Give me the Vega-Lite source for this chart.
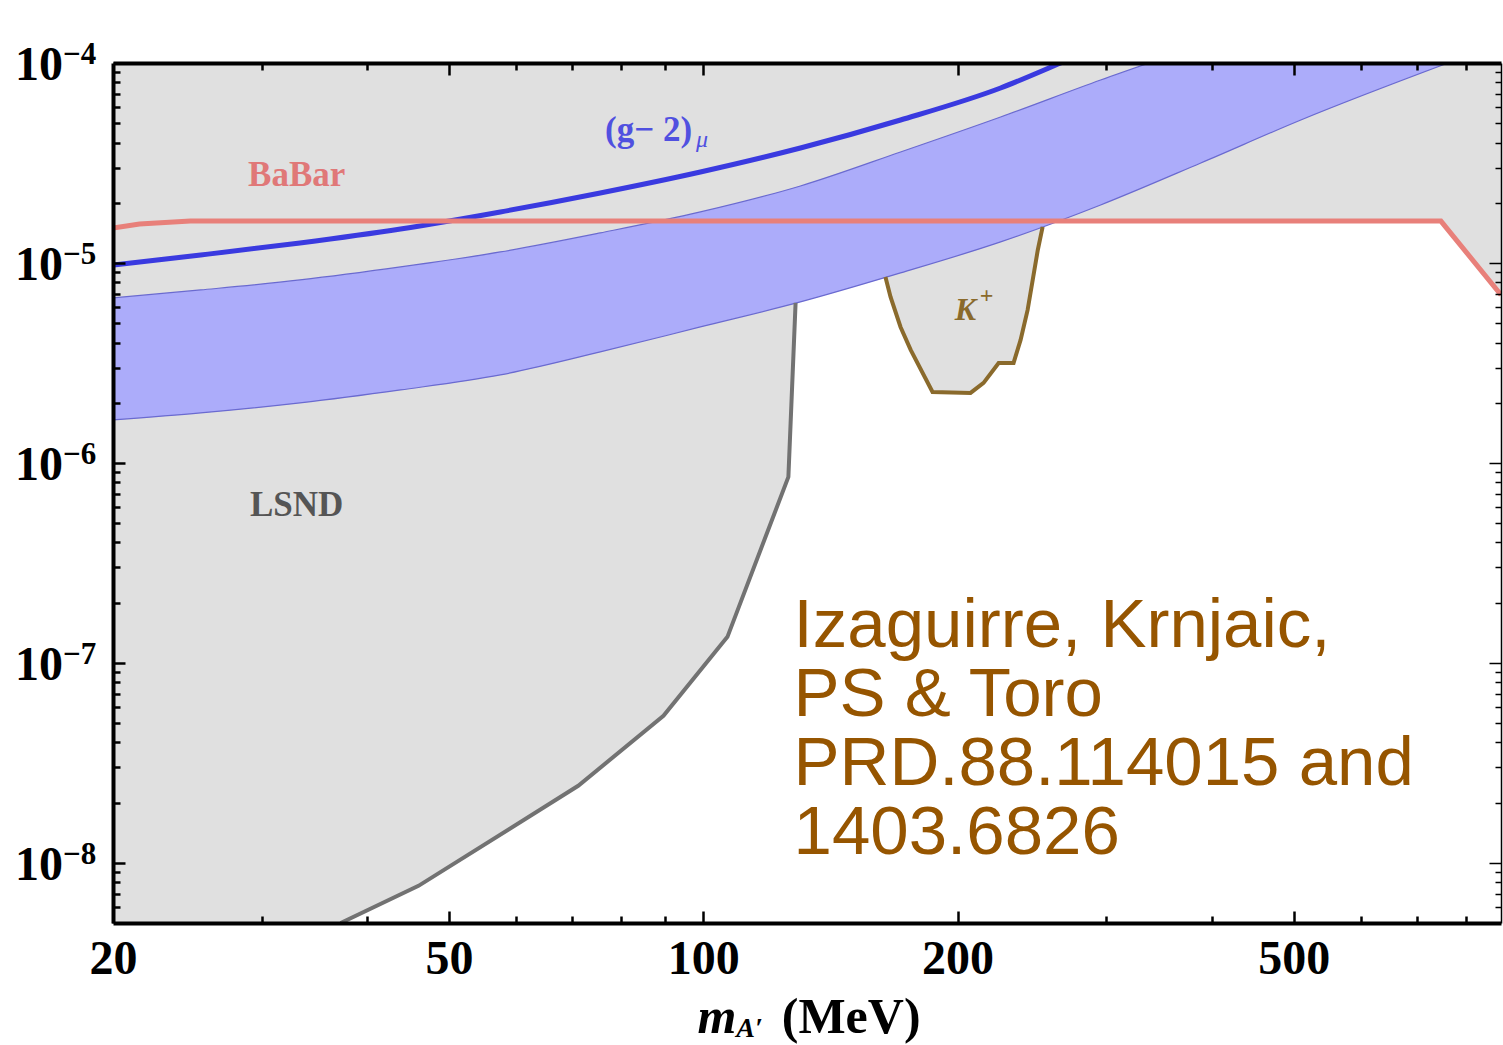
{
  "$schema": "https://vega.github.io/schema/vega-lite/v6.json",
  "width": 1388,
  "height": 860,
  "autosize": {"type": "none"},
  "padding": {"left": 113, "top": 63, "right": 2, "bottom": 122},
  "background": "white",
  "config": {
    "view": {"stroke": null},
    "axis": {
      "grid": false,
      "title": null,
      "labelFont": "Liberation Serif",
      "labelFontWeight": "bold",
      "labelFontSize": 48,
      "labelColor": "black",
      "domainColor": "black",
      "domainWidth": 4,
      "tickColor": "black",
      "tickWidth": 2.5,
      "labelOverlap": false,
      "labelFlush": false,
      "labelBound": false
    }
  },
  "datasets": {
    "one": [{}],
    "ylab": [
      {"v": 1e-4, "sup": "−4"},
      {"v": 1e-5, "sup": "−5"},
      {"v": 1e-6, "sup": "−6"},
      {"v": 1e-7, "sup": "−7"},
      {"v": 1e-8, "sup": "−8"}
    ],
    "babar": [
      {"m": 20, "y": 1.496e-5},
      {"m": 21.5, "y": 1.567e-5},
      {"m": 24.7, "y": 1.62e-5},
      {"m": 747, "y": 1.62e-5},
      {"m": 880, "y": 6.92e-6}
    ],
    "band": [
      {"m": 20, "lo": 1.641e-6, "hi": 6.683e-6},
      {"m": 25.4, "lo": 1.778e-6, "hi": 7.328e-6},
      {"m": 33.3, "lo": 1.995e-6, "hi": 8.222e-6},
      {"m": 43.8, "lo": 2.317e-6, "hi": 9.55e-6},
      {"m": 57.5, "lo": 2.754e-6, "hi": 1.135e-5},
      {"m": 75.5, "lo": 3.589e-6, "hi": 1.413e-5},
      {"m": 99.2, "lo": 4.786e-6, "hi": 1.799e-5},
      {"m": 130.3, "lo": 6.383e-6, "hi": 2.427e-5},
      {"m": 171.2, "lo": 8.913e-6, "hi": 3.589e-5},
      {"m": 224.9, "lo": 1.274e-5, "hi": 5.37e-5},
      {"m": 295.4, "lo": 1.95e-5, "hi": 8.222e-5},
      {"m": 388.2, "lo": 3.162e-5, "hi": 1.23e-4},
      {"m": 509.9, "lo": 5.188e-5, "hi": 1.841e-4},
      {"m": 761.5, "lo": 1.0e-4, "hi": 3.35e-4}
    ],
    "g2": [
      {"m": 20, "y": 9.77e-6},
      {"m": 25.4, "y": 1.096e-5},
      {"m": 33.3, "y": 1.259e-5},
      {"m": 43.8, "y": 1.479e-5},
      {"m": 57.5, "y": 1.799e-5},
      {"m": 75.5, "y": 2.239e-5},
      {"m": 99.2, "y": 2.851e-5},
      {"m": 130.3, "y": 3.758e-5},
      {"m": 171.2, "y": 5.188e-5},
      {"m": 224.9, "y": 7.499e-5},
      {"m": 264.9, "y": 1.0e-4},
      {"m": 300, "y": 1.25e-4}
    ],
    "lsnd": [
      {"m": 20, "y": 5.0e-9},
      {"m": 37.2, "y": 5.0e-9},
      {"m": 46.0, "y": 7.67e-9},
      {"m": 71.1, "y": 2.427e-8},
      {"m": 89.7, "y": 5.433e-8},
      {"m": 106.8, "y": 1.349e-7},
      {"m": 126.1, "y": 8.511e-7},
      {"m": 128.6, "y": 6.31e-6}
    ],
    "kplus": [
      {"m": 164.3, "y": 8.511e-6},
      {"m": 166.6, "y": 6.761e-6},
      {"m": 171.2, "y": 4.786e-6},
      {"m": 176.0, "y": 3.673e-6},
      {"m": 186.8, "y": 2.265e-6},
      {"m": 207.2, "y": 2.239e-6},
      {"m": 214.7, "y": 2.512e-6},
      {"m": 223.7, "y": 3.162e-6},
      {"m": 233.0, "y": 3.162e-6},
      {"m": 237.5, "y": 4.121e-6},
      {"m": 242.1, "y": 5.821e-6},
      {"m": 248.9, "y": 1.161e-5},
      {"m": 252.2, "y": 1.514e-5}
    ]
  },
  "layer": [
    {
      "data": {"name": "babar"},
      "mark": {"type": "area", "color": "#e0e0e0", "clip": true},
      "encoding": {
        "x": {
          "field": "m", "type": "quantitative",
          "scale": {"type": "log", "domain": [20, 880], "nice": false, "zero": false},
          "axis": {
            "orient": "bottom",
            "zindex": 2,
            "values": [20, 30, 40, 50, 60, 70, 80, 90, 100, 200, 300, 400, 500, 600, 700, 800],
            "labelExpr": "indexof([20,50,100,200,500], datum.value) >= 0 ? '' + datum.value : ''",
            "tickSize": {"condition": {"test": "indexof([20,50,100,200,500], datum.value) >= 0", "value": -12}, "value": -7},
            "labelPadding": 24
          }
        },
        "y": {
          "field": "y", "type": "quantitative",
          "scale": {"type": "log", "domain": [5e-9, 1e-4], "nice": false, "zero": false},
          "axis": {
            "orient": "left",
            "zindex": 2,
            "values": [6e-9, 7e-9, 8e-9, 9e-9, 1e-8, 2e-8, 3e-8, 4e-8, 5e-8, 6e-8, 7e-8, 8e-8, 9e-8, 1e-7, 2e-7, 3e-7, 4e-7, 5e-7, 6e-7, 7e-7, 8e-7, 9e-7, 1e-6, 2e-6, 3e-6, 4e-6, 5e-6, 6e-6, 7e-6, 8e-6, 9e-6, 1e-5, 2e-5, 3e-5, 4e-5, 5e-5, 6e-5, 7e-5, 8e-5, 9e-5, 1e-4],
            "labels": false,
            "tickSize": {"condition": {"test": "abs(log(datum.value)/LN10 - round(log(datum.value)/LN10)) < 0.01", "value": -12}, "value": -7}
          }
        },
        "y2": {"datum": 1e-4}
      }
    },
    {
      "data": {"name": "lsnd"},
      "mark": {"type": "area", "color": "#e0e0e0", "clip": true},
      "encoding": {
        "x": {
          "field": "m", "type": "quantitative",
          "axis": {
            "orient": "top",
            "zindex": 2,
            "values": [30, 40, 50, 60, 70, 80, 90, 100, 200, 300, 400, 500, 600, 700, 800],
            "labels": false,
            "tickSize": {"condition": {"test": "indexof([20,50,100,200,500], datum.value) >= 0", "value": -12}, "value": -7}
          }
        },
        "y": {
          "field": "y", "type": "quantitative",
          "axis": {
            "orient": "right",
            "zindex": 2,
            "values": [6e-9, 7e-9, 8e-9, 9e-9, 1e-8, 2e-8, 3e-8, 4e-8, 5e-8, 6e-8, 7e-8, 8e-8, 9e-8, 1e-7, 2e-7, 3e-7, 4e-7, 5e-7, 6e-7, 7e-7, 8e-7, 9e-7, 1e-6, 2e-6, 3e-6, 4e-6, 5e-6, 6e-6, 7e-6, 8e-6, 9e-6, 1e-5, 2e-5, 3e-5, 4e-5, 5e-5, 6e-5, 7e-5, 8e-5, 9e-5],
            "labels": false,
            "domainWidth": 1.5,
            "tickWidth": 1.5,
            "tickSize": {"condition": {"test": "abs(log(datum.value)/LN10 - round(log(datum.value)/LN10)) < 0.01", "value": -12}, "value": -6}
          }
        },
        "y2": {"datum": 1e-4}
      }
    },
    {
      "data": {"name": "kplus"},
      "mark": {"type": "area", "color": "#e0e0e0", "clip": true},
      "encoding": {
        "x": {"field": "m", "type": "quantitative", "axis": null},
        "y": {"field": "y", "type": "quantitative", "axis": null},
        "y2": {"datum": 1.6e-5}
      }
    },
    {
      "data": {"name": "band"},
      "mark": {"type": "area", "color": "#acacfa", "opacity": 1, "interpolate": "monotone", "clip": true},
      "encoding": {
        "x": {"field": "m", "type": "quantitative", "axis": null},
        "y": {"field": "lo", "type": "quantitative", "axis": null},
        "y2": {"field": "hi"}
      }
    },
    {
      "data": {"name": "band"},
      "mark": {"type": "line", "color": "#6a6ad0", "strokeWidth": 1.2, "interpolate": "monotone", "clip": true},
      "encoding": {
        "x": {"field": "m", "type": "quantitative", "axis": null},
        "y": {"field": "lo", "type": "quantitative", "axis": null}
      }
    },
    {
      "data": {"name": "band"},
      "mark": {"type": "line", "color": "#6a6ad0", "strokeWidth": 1.2, "interpolate": "monotone", "clip": true},
      "encoding": {
        "x": {"field": "m", "type": "quantitative", "axis": null},
        "y": {"field": "hi", "type": "quantitative", "axis": null}
      }
    },
    {
      "data": {"name": "lsnd"},
      "transform": [{"filter": "datum.m > 30"}],
      "mark": {"type": "line", "color": "#727272", "strokeWidth": 4, "clip": true},
      "encoding": {
        "x": {"field": "m", "type": "quantitative", "axis": null},
        "y": {"field": "y", "type": "quantitative", "axis": null}
      }
    },
    {
      "data": {"name": "kplus"},
      "mark": {"type": "line", "color": "#8a6a2c", "strokeWidth": 4, "clip": true},
      "encoding": {
        "x": {"field": "m", "type": "quantitative", "axis": null},
        "y": {"field": "y", "type": "quantitative", "axis": null}
      }
    },
    {
      "data": {"name": "g2"},
      "mark": {"type": "line", "color": "#3a3ae0", "strokeWidth": 5, "interpolate": "monotone", "clip": true},
      "encoding": {
        "x": {"field": "m", "type": "quantitative", "axis": null},
        "y": {"field": "y", "type": "quantitative", "axis": null}
      }
    },
    {
      "data": {"name": "babar"},
      "mark": {"type": "line", "color": "#e8807a", "strokeWidth": 5, "clip": true},
      "encoding": {
        "x": {"field": "m", "type": "quantitative", "axis": null},
        "y": {"field": "y", "type": "quantitative", "axis": null}
      }
    },
    {
      "data": {"name": "ylab"},
      "mark": {"type": "text", "text": "10", "font": "Liberation Serif", "fontWeight": "bold", "fontSize": 48, "color": "black", "align": "right", "baseline": "middle", "dy": 3},
      "encoding": {"x": {"datum": 17.45, "type": "quantitative", "axis": null}, "y": {"field": "v", "type": "quantitative", "axis": null}}
    },
    {
      "data": {"name": "ylab"},
      "mark": {"type": "text", "font": "Liberation Serif", "fontWeight": "bold", "fontSize": 31, "color": "black", "align": "left", "baseline": "middle", "dy": -8},
      "encoding": {"x": {"datum": 17.45, "type": "quantitative", "axis": null}, "y": {"field": "v", "type": "quantitative", "axis": null}, "text": {"field": "sup"}}
    },
    {
      "data": {"name": "one"},
      "mark": {"type": "text", "text": "BaBar", "font": "Liberation Serif", "fontWeight": "bold", "fontSize": 35, "color": "#e07878", "align": "center", "baseline": "middle"},
      "encoding": {"x": {"datum": 33.0, "type": "quantitative", "axis": null}, "y": {"datum": 2.754e-5, "type": "quantitative", "axis": null}}
    },
    {
      "data": {"name": "one"},
      "mark": {"type": "text", "text": "LSND", "font": "Liberation Serif", "fontWeight": "bold", "fontSize": 35, "color": "#555555", "align": "center", "baseline": "middle"},
      "encoding": {"x": {"datum": 33.0, "type": "quantitative", "axis": null}, "y": {"datum": 6.166e-7, "type": "quantitative", "axis": null}}
    },
    {
      "data": {"name": "one"},
      "mark": {"type": "text", "text": "(g− 2)", "font": "Liberation Serif", "fontWeight": "bold", "fontSize": 35, "color": "#5050e0", "align": "left", "baseline": "middle"},
      "encoding": {"x": {"datum": 76.5, "type": "quantitative", "axis": null}, "y": {"datum": 4.624e-5, "type": "quantitative", "axis": null}}
    },
    {
      "data": {"name": "one"},
      "mark": {"type": "text", "text": "μ", "font": "Liberation Serif", "fontStyle": "italic", "fontSize": 24, "color": "#5050e0", "align": "left", "baseline": "middle"},
      "encoding": {"x": {"datum": 98.0, "type": "quantitative", "axis": null}, "y": {"datum": 4.121e-5, "type": "quantitative", "axis": null}}
    },
    {
      "data": {"name": "one"},
      "mark": {"type": "text", "text": "K", "font": "Liberation Serif", "fontWeight": "bold", "fontStyle": "italic", "fontSize": 32, "color": "#8a6a2c", "align": "center", "baseline": "middle"},
      "encoding": {"x": {"datum": 204.4, "type": "quantitative", "axis": null}, "y": {"datum": 5.82e-6, "type": "quantitative", "axis": null}}
    },
    {
      "data": {"name": "one"},
      "mark": {"type": "text", "text": "+", "font": "Liberation Serif", "fontWeight": "bold", "fontSize": 24, "color": "#8a6a2c", "align": "center", "baseline": "middle"},
      "encoding": {"x": {"datum": 216.5, "type": "quantitative", "axis": null}, "y": {"datum": 6.84e-6, "type": "quantitative", "axis": null}}
    },
    {
      "data": {"name": "one"},
      "mark": {"type": "text", "text": ["Izaguirre, Krnjaic,", "PS & Toro", "PRD.88.114015 and", "1403.6826"], "font": "Liberation Sans", "fontSize": 69, "lineHeight": 69, "color": "#965500", "align": "left", "baseline": "alphabetic"},
      "encoding": {"x": {"datum": 127.9, "type": "quantitative", "axis": null}, "y": {"datum": 1.207e-7, "type": "quantitative", "axis": null}}
    },
    {
      "data": {"name": "one"},
      "mark": {"type": "text", "text": "m", "font": "Liberation Serif", "fontWeight": "bold", "fontStyle": "italic", "fontSize": 50, "color": "black", "align": "left", "baseline": "alphabetic"},
      "encoding": {"x": {"datum": 98.4, "type": "quantitative", "axis": null}, "y": {"datum": 1.413e-9, "type": "quantitative", "axis": null}}
    },
    {
      "data": {"name": "one"},
      "mark": {"type": "text", "text": "A′", "font": "Liberation Serif", "fontWeight": "bold", "fontStyle": "italic", "fontSize": 28, "color": "black", "align": "left", "baseline": "alphabetic"},
      "encoding": {"x": {"datum": 109.4, "type": "quantitative", "axis": null}, "y": {"datum": 1.34e-9, "type": "quantitative", "axis": null}}
    },
    {
      "data": {"name": "one"},
      "mark": {"type": "text", "text": "(MeV)", "font": "Liberation Serif", "fontWeight": "bold", "fontSize": 50, "color": "black", "align": "right", "baseline": "alphabetic"},
      "encoding": {"x": {"datum": 180.8, "type": "quantitative", "axis": null}, "y": {"datum": 1.413e-9, "type": "quantitative", "axis": null}}
    }
  ],
  "resolve": {"axis": {"x": "independent", "y": "independent"}}
}
